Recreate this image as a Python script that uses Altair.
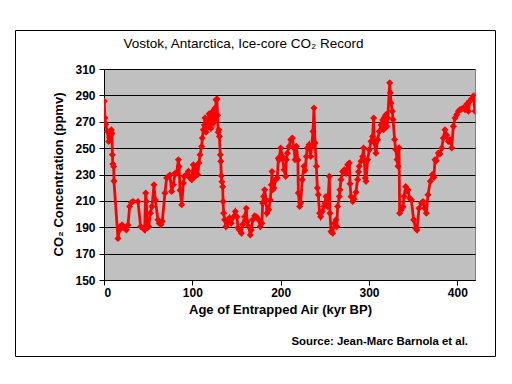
import altair as alt
import pandas as pd

TITLE = "Vostok, Antarctica, Ice-core CO\u2082 Record"
X_TITLE = "Age of Entrapped Air (kyr BP)"
Y_TITLE = "CO\u2082 Concentration (ppmv)"
SOURCE = "Source: Jean-Marc Barnola et al."

x_ticks = [0, 100, 200, 300, 400]
y_ticks = [150, 170, 190, 210, 230, 250, 270, 290, 310]

age = [
    0.3, 1.0, 1.8, 3.8, 5.3, 6.5, 7.5, 8.3, 9.0, 9.5, 10.0, 11.0, 11.3,
    15.8, 17.5, 18.1, 20.4, 22.6, 25.3, 27.2, 29.0, 30.9, 32.8, 38.5,
    41.5, 44.2, 46.0, 47.2, 47.9, 49.1, 50.6, 52.5, 54.3, 56.6, 58.1,
    61.1, 62.5, 64.5, 66.0, 69.0, 70.9, 72.8, 74.7, 76.6, 78.5, 80.4,
    82.3, 84.2, 85.0, 86.1, 88.0, 89.8, 91.0, 93.6, 95.5, 97.4, 99.2,
    101.1, 102.2, 103.8, 106.1, 107.5, 108.7, 110.6, 111.3, 112.5, 113.6,
    114.3, 115.5, 116.5, 118.1, 119.0, 120.0, 121.0, 121.9, 123.0, 123.8,
    124.5, 125.7, 126.2, 126.8, 127.9, 128.5, 129.2, 130.0, 130.6, 131.7,
    132.2, 132.8, 133.5, 134.4, 134.8, 135.5, 136.6, 138.1, 140.0, 142.0,
    144.0, 146.6, 148.7, 150.5, 151.7, 153.2, 155.5, 157.0, 159.2, 161.1,
    162.0, 163.8, 165.7, 166.8, 168.3, 170.6, 172.5, 175.0, 177.0, 178.8,
    179.6, 180.7, 181.9, 183.4, 184.5, 186.4, 188.3, 189.4, 190.2, 191.0,
    192.4, 194.3, 196.2, 197.4, 198.2, 200.0, 201.9, 203.8, 205.7, 206.4,
    207.6, 209.5, 211.4, 213.2, 215.1, 216.3, 217.8, 219.5, 220.0, 221.5,
    222.6, 224.5, 226.4, 227.6, 229.1, 230.2, 232.1, 234.0, 235.1, 236.6,
    237.7, 238.9, 240.4, 241.5, 242.6, 244.1, 245.3, 247.2, 249.0, 250.3,
    251.3, 253.2, 255.1, 255.8, 257.0, 258.9, 260.8, 262.6, 263.5, 264.5,
    266.4, 267.1, 268.3, 270.2, 272.0, 273.9, 275.8, 277.7, 278.5, 279.6,
    281.5, 283.3, 285.2, 287.1, 288.2, 289.0, 290.9, 292.8, 293.9, 295.8,
    296.6, 298.5, 300.4, 302.3, 304.1, 305.3, 306.0, 307.9, 309.8, 311.7,
    313.6, 315.5, 316.5, 317.4, 318.2, 319.3, 320.2, 321.3, 323.4, 324.2,
    324.9, 326.4, 327.2, 329.0, 330.2, 331.7, 332.8, 334.0, 334.7, 336.6,
    338.5, 339.7, 341.5, 343.0, 344.1, 346.0, 347.9, 350.6, 352.8, 354.3,
    356.6, 359.3, 361.2, 363.0, 364.9, 366.8, 369.4, 371.7, 373.5, 374.7,
    376.2, 378.5, 380.4, 382.3, 384.2, 386.0, 387.9, 389.8, 391.7, 393.6,
    395.5, 397.4, 399.3, 401.2, 403.0, 404.9, 406.8, 408.7, 410.6, 412.5,
    414.3, 416.2, 418.1, 420.0,
]
co2 = [
    285.5, 273.0, 268.0, 262.7, 255.0, 258.0, 262.0, 264.0, 261.0, 245.0, 238.0, 236.0, 225.0,
    181.5, 188.0, 190.5, 191.8, 189.6, 188.0, 191.7, 205.7, 208.7, 209.5, 209.5,
    190.5, 189.6, 188.0, 215.9, 209.5, 189.6, 190.5, 200.7, 205.7, 222.2, 210.7,
    195.6, 193.0, 192.0, 194.5, 215.9, 227.3, 228.5, 229.6, 217.1, 222.2, 231.0,
    231.0, 241.2, 236.0, 218.0, 207.0, 223.5, 228.6, 230.0, 232.5, 227.3, 226.0,
    237.4, 228.0, 236.2, 230.0, 238.7, 245.0, 251.3, 257.6, 264.0, 267.6,
    272.9, 262.0, 270.0, 266.0, 276.0, 274.0, 265.0, 277.0, 270.0, 269.0,
    279.0, 280.4, 272.0, 286.7, 287.3, 275.0, 262.0, 264.0, 258.9, 245.0,
    240.0, 229.0, 224.5, 220.8, 209.5, 200.7, 195.6, 190.5, 193.0, 197.0,
    193.0, 198.0, 202.0, 198.0, 189.6, 188.0, 185.5, 192.0, 198.0, 204.4,
    194.3, 190.5, 184.2, 188.0, 195.6, 198.7, 198.0, 195.6, 190.5, 193.0,
    208.3, 213.4, 218.4, 210.7, 200.7, 203.2, 210.7, 222.2, 232.3, 218.5,
    219.8, 226.1, 227.3, 242.4, 241.0, 250.1, 243.7, 233.6, 228.6, 241.2,
    246.2, 251.3, 256.4, 257.6, 250.0, 241.2, 251.3, 241.0, 215.9, 205.7,
    208.3, 226.1, 236.2, 233.0, 243.7, 250.1, 252.6, 243.7, 251.3, 262.7,
    280.4, 253.8, 236.2, 219.8, 214.7, 200.7, 198.0, 202.0, 205.7, 208.3,
    213.3, 205.7, 228.6, 200.7, 186.7, 185.5, 193.0, 195.6, 190.5, 205.7,
    213.3, 218.4, 226.1, 232.3, 233.6, 231.0, 237.4, 238.7, 223.0, 213.3,
    209.5, 211.5, 216.5, 226.1, 232.0, 236.2, 240.0, 243.7, 250.1, 227.3,
    224.8, 241.2, 248.8, 255.1, 258.9, 272.9, 254.0, 246.2, 256.4, 262.7,
    267.6, 271.4, 264.0, 272.9, 274.1, 275.4, 266.4, 272.9, 299.5, 291.9,
    284.3, 278.0, 271.7, 256.6, 249.0, 241.4, 236.3, 250.3, 200.7, 203.2,
    205.5, 213.3, 220.8, 217.5, 218.3, 212.0, 210.8, 195.6, 189.3, 187.9,
    204.4, 208.3, 209.5, 204.4, 200.7, 214.7, 224.8, 229.9, 228.0, 241.2,
    240.5, 246.3, 245.5, 250.0, 257.6, 264.0, 260.0, 255.1, 256.4, 250.1,
    266.5, 272.9, 275.4, 277.9, 279.2, 279.6, 280.4, 279.2, 283.2, 277.9,
    285.7, 287.5, 289.5, 277.9,
]

df = pd.DataFrame({"age": age, "co2": co2})
FONT = "Liberation Sans"
W, H = 371, 211

line = alt.Chart(df).mark_line(
    color="#FF0000", strokeWidth=2.8, clip=True,
    point=alt.OverlayMarkDef(shape="diamond", size=50, filled=True, color="#FF0000", opacity=1),
).encode(
    x=alt.X("age:Q", scale=alt.Scale(domain=[0, 420], nice=False, zero=False),
            axis=alt.Axis(values=x_ticks, title=X_TITLE, grid=False, format="d",
                          titleX=176, titleY=33, titleAlign="center", titleBaseline="alphabetic",
                          labelBaseline="alphabetic", labelPadding=11, tickSize=5)),
    y=alt.Y("co2:Q", scale=alt.Scale(domain=[150, 310], nice=False, zero=False),
            axis=alt.Axis(values=y_ticks, title=Y_TITLE, grid=True, format="d",
                          titleX=-42, titleY=105, titleAngle=270, titleAlign="center",
                          titleBaseline="alphabetic", labelPadding=4, tickSize=5)),
)

border = alt.Chart(pd.DataFrame({"k": [0]})).mark_rect(
    fill="transparent", stroke="black", strokeWidth=1, clip=False
).encode(x=alt.value(-88.5), x2=alt.value(391.5), y=alt.value(-38.5), y2=alt.value(287.5))

title = alt.Chart(pd.DataFrame({"t": [TITLE]})).mark_text(
    font=FONT, fontSize=13.5, fontWeight="normal", align="center", baseline="alphabetic",
    color="black", clip=False
).encode(text="t:N", x=alt.value(139.5), y=alt.value(-21))

source = alt.Chart(pd.DataFrame({"t": [SOURCE]})).mark_text(
    font=FONT, fontSize=11.4, fontWeight="bold", align="right", baseline="alphabetic",
    color="black", clip=False
).encode(text="t:N", x=alt.value(364), y=alt.value(276))

chart = alt.layer(line, border, title, source).properties(
    width=W, height=H,
    autosize=alt.AutoSizeParams(type="none"),
    padding={"left": 96, "top": 61, "right": 29, "bottom": 90},
    background="white",
).configure_view(
    fill="#C0C0C0", stroke="#808080", strokeWidth=1
).configure_axis(
    labelFont=FONT, labelFontSize=12, labelFontWeight="bold", labelColor="black",
    titleFont=FONT, titleFontSize=13, titleFontWeight="bold", titleColor="black",
    domainColor="black", domainWidth=1, tickColor="black", tickWidth=1,
    gridColor="black", gridWidth=1, gridOpacity=1,
)

chart.save("out.html", embed_options={"renderer": "svg", "actions": False})
